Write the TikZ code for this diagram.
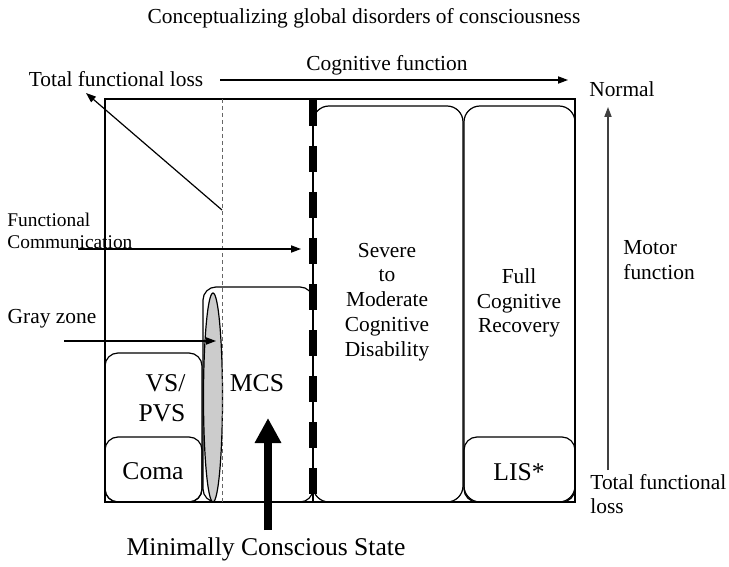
\documentclass[tikz,border=0pt]{standalone}
\usepackage{fontspec}
\setmainfont{Liberation Serif}
\usetikzlibrary{arrows.meta}

\begin{document}
\begin{tikzpicture}[
    x=0.5pt, y=-0.5pt,
    every node/.style = {inner sep=0pt, align=center, font=\fontsize{10.7}{12.4}\selectfont},
    big/.style        = {font=\fontsize{12.8}{15.2}\selectfont},
    small/.style      = {font=\fontsize{9.7}{10.8}\selectfont},
    frame/.style      = {draw, line width=0.6pt},
    stage/.style      = {draw, line width=0.6pt, rounded corners=6.5pt},
    tall/.style       = {stage, rounded corners=8pt},
    grayv/.style      = {draw, line width=0.6pt, fill=gray!40},
    arr/.style        = {line width=0.6pt, -{Triangle[length=5pt,width=3.6pt]}}
    ]
      \useasboundingbox (0,0) rectangle (729,567);

      % frame and stages -----------------------------------------
      \draw[frame] (105,99) rectangle (575,502);
      \draw[stage] (105,353) rectangle (202,502);
      \draw[stage] (105,437) rectangle (202,502);
      \draw[stage] (203,287) rectangle (313,502);
      \draw[tall]  (313,106) rectangle (463,502);
      \draw[tall]  (464,106) rectangle (575,502);
      \draw[stage] (464,437) rectangle (575,502);
      \draw[grayv] (213,397.5) ellipse [x radius=9.5, y radius=104.5];

      % borders --------------------------------------------------
      \draw[black!60, line width=0.4pt, dash pattern=on 2pt off 1.5pt] (222,99) -- (222,502);
      \draw[line width=0.6pt] (313,99) -- (313,502);
      \draw[line width=3.6pt, dash pattern=on 13pt off 10pt] (313,100) -- (313,494);

      % labels ---------------------------------------------------
      \node (title)    at (364,18)  {Conceptualizing global disorders of consciousness};
      \node (tfl)      at (116,79)  {Total functional loss};
      \node (cogfn)    at (387,65)  {Cognitive function};
      \node (normal)   at (622,89)  {Normal};
      \node[align=left, anchor=west] (motor) at (623,260) {Motor\\function};
      \node[align=left, anchor=west] (tflb)  at (590,494) {Total functional\\loss};
      \node[small, align=left, anchor=west] (funcomm) at (7,231) {Functional\\Communication};
      \node (grayzone) at (52,319)  {Gray zone};
      \node (severe)   at (387,302) {Severe\\to\\Moderate\\Cognitive\\Disability};
      \node (full)     at (519,303) {Full\\Cognitive\\Recovery};
      \node[big, align=right] (vs) at (162,398) {VS/\\PVS};
      \node[big] (mcs)  at (257,383) {MCS};
      \node[big] (coma) at (153,471) {Coma};
      \node[big] (lis)  at (519,472) {LIS*};
      \node[big] (mcsname) at (266,549) {Minimally Conscious State};

      % arrows ---------------------------------------------------
      \coordinate (cog-a)   at (220,80);
      \coordinate (cog-b)   at (568,80);
      \coordinate (diag-a)  at (222,210);
      \coordinate (diag-b)  at (86,93);
      \coordinate (comm-a)  at (78,249);
      \coordinate (comm-b)  at (301,249);
      \coordinate (gray-a)  at (64,341);
      \coordinate (gray-b)  at (216,341);
      \coordinate (motor-a) at (608,470);
      \coordinate (motor-b) at (608,107);
      \coordinate (mcs-a)   at (268,530);
      \coordinate (mcs-b)   at (268,418);
      \draw[arr] (cog-a) -- (cog-b);
      \draw[arr] (diag-a) -- (diag-b);
      \draw[arr] (comm-a) -- (comm-b);
      \draw[arr] (gray-a) -- (gray-b);
      \draw[arr, black!75] (motor-a) -- (motor-b);
      \draw[line width=4pt, -{Triangle[length=12.5pt,width=12.5pt]}] (mcs-a) -- (mcs-b);
    \end{tikzpicture}
\end{document}
